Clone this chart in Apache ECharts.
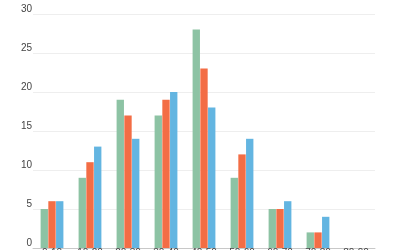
<!DOCTYPE html>
<html>
<head>
<meta charset="utf-8">
<script src="https://cdn.jsdelivr.net/npm/echarts@6/dist/echarts.min.js"></script>
<style>html,body{margin:0;padding:0;background:#fff}#c{width:400px;height:250px}</style>
</head>
<body>
<div id="c"></div>
<script>
var categories = ["0-10", "10-20", "20-30", "30-40", "40-50", "50-60", "60-70", "70-80", "80-90"];
var seriesA = [5, 9, 19, 17, 28, 9, 5, 2, 0];
var seriesB = [6, 11, 17, 19, 23, 12, 5, 2, 0];
var seriesC = [6, 13, 14, 20, 18, 14, 6, 4, 0];
var yTicks = [0, 5, 10, 15, 20, 25, 30];
var colors = ["#8dc3a4", "#f36d45", "#63b5e1"];

var chart = echarts.init(document.getElementById('c'), null, {renderer: 'canvas'});
chart.setOption({
  animation: false,
  grid: {left: 33, right: 25, top: 14, bottom: 2, containLabel: false, outerBoundsMode: 'none'},
  xAxis: {
    type: 'category',
    data: categories,
    axisLine: {lineStyle: {color: '#c8c8c8'}},
    axisTick: {lineStyle: {color: '#c8c8c8'}, length: 4},
    axisLabel: {color: '#444', fontSize: 10, fontFamily: 'Liberation Sans, Arial', margin: 0}
  },
  yAxis: {
    type: 'value',
    min: yTicks[0],
    max: yTicks[yTicks.length - 1],
    interval: 5,
    axisLine: {show: false},
    axisTick: {show: false},
    splitLine: {lineStyle: {color: '#eeeeee'}},
    axisLabel: {color: '#444', fontSize: 10, fontFamily: 'Liberation Sans, Arial', margin: 1, verticalAlign: 'bottom'}
  },
  series: [
    {type: 'bar', data: seriesA, barCategoryGap: '40%', barGap: '5%', itemStyle: {color: colors[0]}},
    {type: 'bar', data: seriesB, barCategoryGap: '40%', barGap: '5%', itemStyle: {color: colors[1]}},
    {type: 'bar', data: seriesC, barCategoryGap: '40%', barGap: '5%', itemStyle: {color: colors[2]}}
  ]
});
</script>
</body>
</html>
